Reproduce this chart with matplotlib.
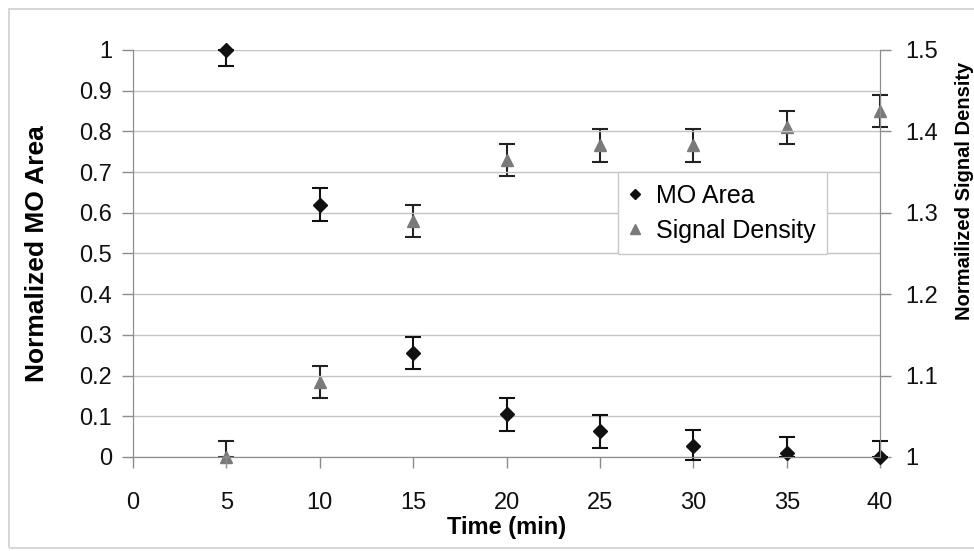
import numpy as np
from matplotlib import pyplot as plt
from matplotlib.patches import Rectangle

plt.rcParams['font.family'] = ['Liberation Sans', 'DejaVu Sans']

# data
TIME = [5, 10, 15, 20, 25, 30, 35, 40]
MO_AREA = [1.0, 0.62, 0.255, 0.105, 0.063, 0.027, 0.01, 0.0]
MO_ERR_LO = [0.04, 0.04, 0.04, 0.04, 0.04, 0.035, 0.01, 0.0]
MO_ERR_HI = [0.0, 0.04, 0.04, 0.04, 0.04, 0.04, 0.04, 0.04]
SIG_DENS = [1.0, 1.092, 1.29, 1.365, 1.383, 1.383, 1.405, 1.425]
SIG_ERR_LO = [0.0, 0.02, 0.02, 0.02, 0.02, 0.02, 0.02, 0.02]
SIG_ERR_HI = [0.02, 0.02, 0.02, 0.02, 0.02, 0.02, 0.02, 0.02]

fig = plt.figure(figsize=(9.74, 5.51), dpi=100)
fig.patches.append(Rectangle((0.009, 0.006), 0.995, 0.978, transform=fig.transFigure,
                             fill=False, edgecolor="#d0d0d0", lw=1.2))
ax = fig.add_axes([0.1366, 0.1706, 0.767, 0.7387])
ax2 = ax.twinx()

gray = "#8c8c8c"
ax.set_xlim(0, 40)
ax.set_ylim(0, 1)
ax.set_yticks(np.arange(0, 1.01, 0.1))
ax.set_yticklabels(["0", "0.1", "0.2", "0.3", "0.4", "0.5", "0.6", "0.7", "0.8", "0.9", "1"])
ax.set_xticks(range(0, 41, 5))
ax.grid(axis="y", color="#c4c4c4", lw=1)
ax.set_axisbelow(True)
ax2.set_ylim(1, 1.5)
ax2.set_yticks([1, 1.1, 1.2, 1.3, 1.4, 1.5])
ax2.set_yticklabels(["1", "1.1", "1.2", "1.3", "1.4", "1.5"])

for a in (ax, ax2):
    a.spines["top"].set_visible(False)
    for s in ("left", "right", "bottom"):
        a.spines[s].set_color(gray)
    a.tick_params(colors=gray, labelcolor="#111111", labelsize=17, length=8, width=1, pad=7)
ax.tick_params(axis="x", pad=17)
ax2.tick_params(axis="y", pad=10)

ax2.errorbar(TIME, SIG_DENS, yerr=[SIG_ERR_LO, SIG_ERR_HI], fmt="^", color="#7a7a7a",
             ecolor="#222222", elinewidth=1.5, capsize=5.5, capthick=1.5, markersize=9,
             clip_on=False, label="Signal Density")
ax.errorbar(TIME, MO_AREA, yerr=[MO_ERR_LO, MO_ERR_HI], fmt="D", color="#111111",
            ecolor="#111111", elinewidth=1.5, capsize=5.5, capthick=1.5, markersize=7,
            clip_on=False, label="MO Area")
ax.set_zorder(ax2.get_zorder() + 1)
ax.patch.set_visible(False)

ax.set_xlabel("Time (min)", fontsize=17, fontweight="bold", labelpad=2)
ax.set_ylabel("Normalized MO Area", fontsize=19, fontweight="bold", labelpad=22)
ax2.set_ylabel("Normailized Signal Density", fontsize=14.5, fontweight="bold")
ax2.yaxis.set_label_coords(1.100, 0.655)

h1, l1 = ax.get_legend_handles_labels()
h2, l2 = ax2.get_legend_handles_labels()
leg = ax.legend([h[0] for h in h1 + h2], l1 + l2, loc="upper left",
                bbox_to_anchor=(0.632, 0.73), fontsize=18, frameon=True, fancybox=False,
                edgecolor="#c8c8c8", framealpha=1, handlelength=0.5, handletextpad=0.6,
                borderpad=0.45, labelspacing=0.45, markerscale=0.75)

fig.savefig("out.png", dpi=100)
